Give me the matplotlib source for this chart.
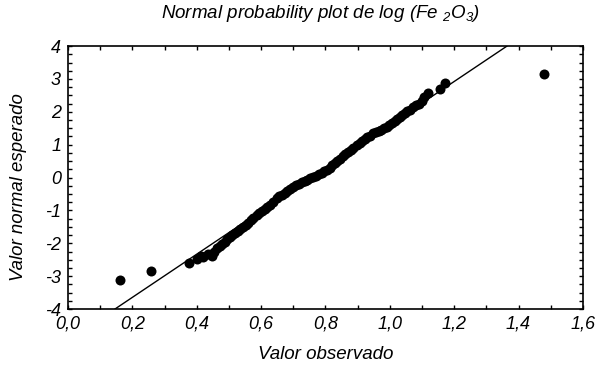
import matplotlib.pyplot as plt
from matplotlib.ticker import MultipleLocator

plt.rcParams['font.family'] = ['Liberation Sans', 'DejaVu Sans']
plt.rcParams['font.style'] = 'italic'
plt.rcParams['mathtext.fontset'] = 'custom'
plt.rcParams['mathtext.rm'] = 'Liberation Sans:italic'
plt.rcParams['mathtext.it'] = 'Liberation Sans:italic'

obs = [0.161, 0.258, 0.376, 0.400, 0.412, 0.420, 0.435, 0.447, 0.455,
       0.463, 0.471, 0.479, 0.487, 0.495, 0.503, 0.511, 0.519, 0.527,
       0.535, 0.544, 0.552, 0.560, 0.568, 0.576, 0.587, 0.595, 0.603,
       0.611, 0.619, 0.628, 0.638, 0.649, 0.657, 0.665, 0.673, 0.681,
       0.690, 0.699, 0.708, 0.717, 0.726, 0.735, 0.743, 0.752, 0.761,
       0.770, 0.779, 0.788, 0.796, 0.805, 0.813, 0.821, 0.829, 0.837,
       0.845, 0.854, 0.862, 0.870, 0.878, 0.886, 0.898, 0.906, 0.914,
       0.922, 0.930, 0.939, 0.948, 0.957, 0.966, 0.974, 0.982, 0.991,
       0.999, 1.007, 1.015, 1.023, 1.031, 1.039, 1.047, 1.055, 1.063,
       1.072, 1.081, 1.090, 1.100, 1.106, 1.118, 1.156, 1.171, 1.479]
expected = [-3.12, -2.84, -2.60, -2.48, -2.40, -2.42, -2.33, -2.39, -2.26,
            -2.15, -2.08, -2.01, -1.95, -1.88, -1.81, -1.75, -1.69, -1.63,
            -1.58, -1.51, -1.44, -1.37, -1.30, -1.23, -1.14, -1.08, -1.02,
            -0.96, -0.91, -0.84, -0.74, -0.62, -0.57, -0.52, -0.46, -0.41,
            -0.35, -0.29, -0.24, -0.20, -0.15, -0.11, -0.07, -0.02, 0.02,
            0.06, 0.11, 0.15, 0.19, 0.23, 0.30, 0.37, 0.44, 0.50,
            0.57, 0.65, 0.71, 0.77, 0.83, 0.90, 0.99, 1.05, 1.10,
            1.16, 1.22, 1.28, 1.35, 1.39, 1.43, 1.46, 1.50, 1.54,
            1.60, 1.66, 1.72, 1.78, 1.84, 1.90, 1.96, 2.02, 2.07,
            2.14, 2.20, 2.25, 2.32, 2.45, 2.56, 2.69, 2.87, 3.15]

# reference line end points
line_x = [0.146, 1.364]
line_y = [-4.0, 4.0]

xticks = [0.0, 0.2, 0.4, 0.6, 0.8, 1.0, 1.2, 1.4, 1.6]
xtick_labels = ["0,0", "0,2", "0,4", "0,6", "0,8", "1,0", "1,2", "1,4", "1,6"]
yticks = [-4, -3, -2, -1, 0, 1, 2, 3, 4]
ytick_labels = ["-4", "-3", "-2", "-1", "0", "1", "2", "3", "4"]

fig = plt.figure(figsize=(6.04, 3.78), dpi=100)
ax = fig.add_axes([0.1126, 0.1825, 0.8524, 0.6955])

ax.plot(line_x, line_y, color='black', linewidth=1.0)
ax.plot(obs, expected, 'o', color='black', markersize=7.2, markeredgewidth=0)

ax.set_xlim(0, 1.6)
ax.set_ylim(-4, 4)
ax.set_xticks(xticks)
ax.set_xticklabels(xtick_labels)
ax.set_yticks(yticks)
ax.set_yticklabels(ytick_labels)
ax.xaxis.set_minor_locator(MultipleLocator(0.1))
ax.yaxis.set_minor_locator(MultipleLocator(0.25))
ax.tick_params(which='both', direction='in', top=True, right=True,
               length=3, width=1, labelsize=13, pad=5)

for s in ax.spines.values():
    s.set_linewidth(1.2)

fig.text(0.531, 0.963, r"Normal probability plot de log (Fe $_{2}$O$_{3}$)",
         fontsize=13.5, ha='center', va='center')
fig.text(0.539, 0.061, "Valor observado", fontsize=13.5,
         ha='center', va='center')
fig.text(0.030, 0.505, "Valor normal esperado", fontsize=13.4,
         ha='center', va='center', rotation=90)

plt.savefig("out.png", dpi=100)
